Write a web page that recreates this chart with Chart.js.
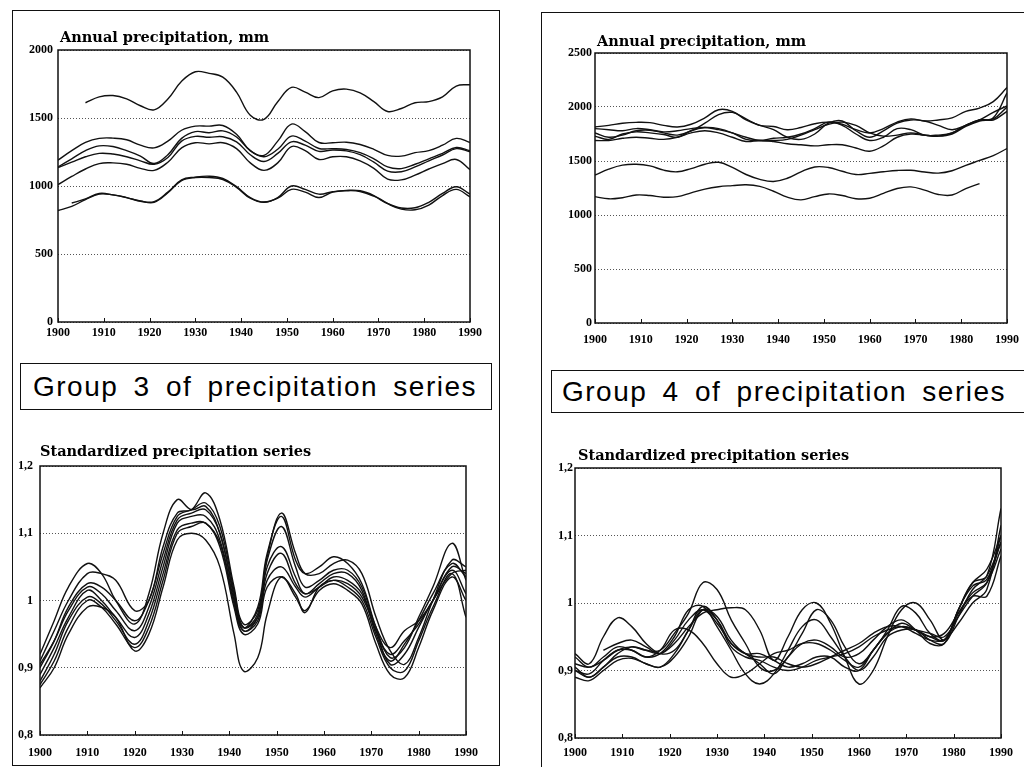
<!DOCTYPE html>
<html>
<head>
<meta charset="utf-8">
<script src="https://cdn.jsdelivr.net/npm/chart.js@4.4.0/dist/chart.umd.min.js"></script>
<style>
body{margin:0;background:#fff;}
#page{position:relative;width:1024px;height:767px;overflow:hidden;background:#fff;}
.panel{position:absolute;border:1.5px solid #111;}
.group{position:absolute;border:1.5px solid #111;box-sizing:border-box;display:flex;align-items:center;
  font-family:"Liberation Sans",Arial,sans-serif;font-size:28px;letter-spacing:1.5px;word-spacing:6px;color:#000;white-space:nowrap;}
canvas{position:absolute;}
</style>
</head>
<body>
<div id="page">
<div class="panel" style="left:12px;top:10px;width:486px;height:754px"></div>
<div class="panel" style="left:541px;top:12px;width:520px;height:780px"></div>
<div class="group" style="left:20px;top:363px;width:472px;height:47px;padding-left:12px">Group 3 of precipitation series</div>
<div class="group" style="left:551px;top:370px;width:475px;height:43px;padding-left:10px">Group 4 of precipitation series</div>
<canvas id="c1" width="490" height="330" style="left:0px;top:22px"></canvas>
<canvas id="c2" width="489" height="330" style="left:535px;top:22px"></canvas>
<canvas id="c3" width="490" height="327" style="left:0px;top:440px"></canvas>
<canvas id="c4" width="489" height="327" style="left:535px;top:440px"></canvas>
</div>
<script>
// sample years (smoothed curves read every ~3 years)
var years = [1900,1903,1906,1909,1912,1915,1918,1921,1924,1927,1930,1933,1936,1939,1942,1945,1948,1951,1954,1957,1960,1963,1966,1969,1972,1975,1978,1981,1984,1987,1990];
var yearsStd3 = [1900,1903,1906,1910,1913,1916,1920,1923,1926,1929,1932,1935,1938,1941,1943,1946,1948,1951,1954,1956,1959,1962,1965,1968,1971,1974,1977,1980,1983,1987,1990];

var xTicks = [1900,1910,1920,1930,1940,1950,1960,1970,1980,1990];
var yTicksG3 = [0,500,1000,1500,2000];
var yTicksG4 = [0,500,1000,1500,2000,2500];
var yTicksStd = [0.8,0.9,1,1.1,1.2];
var yLabelsStd = ['0,8','0,9','1','1,1','1,2'];

// group 3, annual precipitation (mm)
var g3a1 = [null,null,1612,1655,1665,1640,1590,1560,1640,1770,1840,1828,1800,1690,1520,1490,1620,1725,1690,1650,1700,1712,1685,1620,1548,1570,1612,1620,1655,1735,1745];
var g3a2 = [1190,1260,1320,1350,1352,1340,1300,1280,1330,1410,1440,1440,1445,1380,1260,1225,1330,1455,1400,1320,1318,1322,1305,1270,1225,1220,1245,1260,1300,1350,1320];
var g3a3 = [1140,1200,1260,1295,1290,1260,1220,1165,1230,1350,1400,1392,1405,1360,1260,1215,1270,1367,1330,1276,1275,1268,1245,1200,1140,1128,1160,1200,1240,1283,1260];
var g3a4 = [1135,1175,1215,1240,1235,1215,1185,1160,1210,1330,1365,1358,1362,1325,1230,1180,1240,1325,1300,1255,1265,1258,1230,1175,1110,1105,1140,1185,1228,1275,1252];
var g3a5 = [1010,1070,1125,1165,1170,1160,1130,1115,1175,1280,1318,1310,1318,1275,1170,1115,1170,1290,1260,1195,1215,1215,1185,1130,1050,1045,1080,1125,1165,1195,1120];
var g3a6 = [820,850,900,940,935,915,890,880,950,1040,1062,1062,1048,990,910,880,910,975,955,915,955,965,960,925,870,830,825,860,930,975,920];
var g3a7 = [null,875,905,945,935,915,888,885,955,1045,1065,1072,1055,995,915,882,915,1000,975,940,958,968,965,930,872,838,840,880,945,995,940];

// group 4, annual precipitation (mm)
var g4a1 = [1170,1150,1160,1185,1180,1165,1170,1205,1240,1262,1272,1280,1265,1220,1165,1140,1170,1195,1180,1150,1155,1200,1245,1260,1230,1190,1185,1245,1290,null,null];
var g4a2 = [1370,1425,1462,1470,1455,1415,1400,1430,1470,1488,1440,1375,1330,1310,1340,1400,1445,1440,1405,1375,1385,1400,1412,1414,1398,1388,1410,1460,1505,1550,1615];
var g4a3 = [1815,1830,1850,1858,1855,1830,1815,1840,1900,1975,1960,1880,1830,1790,1720,1700,1750,1850,1870,1780,1720,1780,1850,1880,1870,1830,1790,1830,1880,1950,2010];
var g4a4 = [1760,1720,1740,1780,1785,1760,1740,1780,1850,1930,1950,1890,1830,1820,1790,1810,1845,1860,1840,1790,1760,1800,1860,1890,1870,1880,1900,1960,1990,2050,2180];
var g4a5 = [1730,1700,1750,1770,1760,1745,1720,1780,1810,1800,1760,1700,1690,1710,1720,1750,1800,1860,1830,1750,1690,1720,1800,1790,1740,1740,1760,1830,1880,1890,2000];
var g4a6 = [1690,1690,1710,1720,1710,1700,1720,1760,1780,1760,1720,1680,1690,1680,1660,1650,1640,1650,1650,1620,1590,1640,1720,1750,1740,1730,1760,1830,1880,1880,1960];
var g4a7 = [1800,1790,1780,1800,1790,1770,1780,1800,1810,1790,1760,1720,1690,1690,1700,1740,1790,1840,1860,1830,1760,1730,1740,1760,1740,1730,1750,1820,1870,1900,2130];

// group 3, standardized series
var g3s1 = [0.92,0.97,1.02,1.055,1.04,1.00,0.965,1.01,1.10,1.15,1.135,1.14,1.10,1.01,0.96,0.99,1.07,1.125,1.06,1.04,1.05,1.065,1.055,1.025,0.96,0.915,0.93,0.975,1.02,1.085,1.03];
var g3s2 = [0.91,0.955,1.00,1.04,1.04,1.03,0.985,1.00,1.08,1.13,1.135,1.16,1.12,1.02,0.965,0.985,1.065,1.13,1.07,1.04,1.04,1.055,1.06,1.04,0.975,0.925,0.905,0.945,1.00,1.06,1.05];
var g3s3 = [0.90,0.94,0.99,1.025,1.02,1.00,0.97,1.00,1.07,1.125,1.135,1.145,1.11,1.015,0.96,0.98,1.06,1.11,1.05,1.02,1.03,1.045,1.045,1.02,0.96,0.93,0.955,0.97,1.00,1.05,1.04];
var g3s4 = [0.905,0.94,0.985,1.02,1.01,0.985,0.955,0.99,1.06,1.12,1.13,1.135,1.10,1.005,0.955,0.975,1.05,1.08,1.035,1.01,1.025,1.04,1.04,1.015,0.95,0.91,0.935,0.97,1.01,1.055,1.035];
var g3s5 = [0.89,0.93,0.975,1.015,1.00,0.975,0.945,0.98,1.05,1.115,1.125,1.125,1.09,1.00,0.96,0.975,1.04,1.07,1.025,1.01,1.02,1.035,1.03,1.01,0.955,0.92,0.94,0.965,1.00,1.04,1.045];
var g3s6 = [0.88,0.92,0.97,1.005,0.995,0.97,0.935,0.97,1.04,1.105,1.115,1.115,1.085,0.995,0.955,0.97,1.03,1.05,1.02,1.005,1.02,1.03,1.025,1.005,0.955,0.905,0.92,0.96,1.00,1.045,1.01];
var g3s7 = [0.875,0.91,0.96,1.00,0.99,0.965,0.93,0.96,1.03,1.10,1.11,1.115,1.08,0.99,0.95,0.965,1.02,1.035,1.01,0.982,1.02,1.03,1.02,1.00,0.945,0.90,0.895,0.94,0.99,1.04,0.975];
var g3s8 = [0.87,0.90,0.95,0.99,0.99,0.975,0.925,0.95,1.02,1.09,1.10,1.09,1.05,0.95,0.895,0.915,0.98,1.035,1.005,0.985,1.015,1.025,1.015,0.995,0.935,0.89,0.885,0.93,0.985,1.035,1.00];

// group 4, standardized series
var g4s1 = [0.925,0.91,0.95,0.978,0.965,0.94,0.925,0.93,0.96,0.99,0.975,0.94,0.925,0.925,0.915,0.905,0.91,0.92,0.92,0.905,0.90,0.93,0.955,0.97,0.96,0.95,0.955,0.985,1.01,1.01,1.07];
var g4s2 = [0.91,0.905,0.915,0.93,0.935,0.93,0.93,0.955,0.985,1.03,1.02,0.975,0.94,0.905,0.90,0.92,0.955,0.99,0.975,0.935,0.91,0.93,0.96,0.995,0.985,0.955,0.945,0.99,1.03,1.05,1.10];
var g4s3 = [0.90,0.89,0.905,0.925,0.935,0.93,0.925,0.94,0.965,0.985,0.99,0.993,0.99,0.96,0.915,0.95,0.99,1.0,0.97,0.92,0.88,0.90,0.95,0.99,1.0,0.975,0.945,0.99,1.03,1.04,1.14];
var g4s4 = [0.92,0.905,0.92,0.935,0.93,0.92,0.93,0.96,0.96,0.94,0.91,0.89,0.895,0.91,0.925,0.93,0.94,0.94,0.93,0.915,0.905,0.93,0.955,0.965,0.96,0.95,0.945,0.985,1.015,1.03,1.08];
var g4s5 = [0.90,0.895,0.915,0.93,0.93,0.92,0.925,0.95,0.99,0.995,0.965,0.93,0.895,0.88,0.895,0.93,0.965,0.975,0.95,0.92,0.90,0.92,0.95,0.96,0.96,0.945,0.94,0.98,1.02,1.04,1.09];
var g4s6 = [0.905,0.89,0.905,0.92,0.92,0.91,0.905,0.925,0.96,0.995,0.975,0.935,0.92,0.915,0.905,0.90,0.905,0.915,0.92,0.925,0.935,0.95,0.96,0.965,0.96,0.955,0.95,0.98,1.01,1.03,1.10];
var g4s7 = [0.89,0.885,0.90,0.915,0.918,0.91,0.905,0.92,0.95,0.99,0.98,0.945,0.925,0.92,0.92,0.91,0.905,0.91,0.92,0.93,0.94,0.955,0.965,0.965,0.955,0.945,0.945,0.97,1.0,1.02,1.115];
var g4s8 = [null,null,0.93,0.94,0.945,0.935,0.925,0.945,0.975,0.99,0.97,0.94,0.925,0.91,0.895,0.92,0.94,0.945,0.935,0.92,0.925,0.945,0.965,0.975,0.96,0.94,0.94,0.99,1.025,1.035,1.09];

var tickFont = {family: '"Liberation Serif", serif', weight: 'bold', size: 12};

// plot frame, small x ticks and the axis caption above the plot
var framePlugin = {
	id: 'frame',
	afterDraw: function(chart, args, opts){
		var ctx = chart.ctx;
		var a = chart.chartArea;
		var xs = chart.scales.x;
		ctx.save();
		ctx.strokeStyle = '#111';
		ctx.lineWidth = 1.5;
		ctx.strokeRect(a.left, a.top, a.right - a.left, a.bottom - a.top);
		ctx.lineWidth = 1;
		xTicks.forEach(function(t){
			var px = Math.round(xs.getPixelForValue(t)) + 0.5;
			ctx.beginPath();
			ctx.moveTo(px, a.bottom);
			ctx.lineTo(px, a.bottom - 4);
			ctx.stroke();
		});
		ctx.fillStyle = '#000';
		ctx.font = 'bold 14.5px "DejaVu Serif", serif';
		ctx.textBaseline = 'alphabetic';
		ctx.fillText(opts.title, a.left + opts.dx, a.top - opts.dy);
		ctx.restore();
	}
};

function makeChart(canvasId, xs, seriesList, yTicks, yLabels, box){
	var datasets = seriesList.map(function(s){
		return {
			data: xs.map(function(yr, i){ return {x: yr, y: s[i]}; }),
			borderColor: '#111',
			borderWidth: 1.4,
			pointRadius: 0,
			tension: 0.4,
			fill: false
		};
	});
	return new Chart(document.getElementById(canvasId), {
		type: 'line',
		data: {datasets: datasets},
		options: {
			responsive: false,
			animation: false,
			layout: {padding: {top: box.top, right: box.right, left: 0, bottom: 0}},
			plugins: {
				legend: {display: false},
				tooltip: {enabled: false},
				frame: {title: box.title, dx: box.dx, dy: box.dy}
			},
			scales: {
				x: {
					type: 'linear',
					min: 1900,
					max: 1990,
					afterBuildTicks: function(s){ s.ticks = xTicks.map(function(v){ return {value: v}; }); },
					afterFit: function(s){ s.height = box.xh; },
					grid: {display: false},
					border: {display: false},
					ticks: {
						padding: box.xpad,
						color: '#000',
						font: tickFont,
						maxRotation: 0,
						autoSkip: false,
						callback: function(v){ return String(v); }
					}
				},
				y: {
					type: 'linear',
					min: yTicks[0],
					max: yTicks[yTicks.length - 1],
					afterBuildTicks: function(s){ s.ticks = yTicks.map(function(v){ return {value: v}; }); },
					afterFit: function(s){ s.width = box.yw; },
					grid: {color: '#555', lineWidth: 1, drawTicks: false},
					border: {display: false, dash: [1, 2]},
					ticks: {
						padding: box.ypad,
						color: '#000',
						font: tickFont,
						callback: function(v, i){ return yLabels[i]; }
					}
				}
			}
		},
		plugins: [framePlugin]
	});
}

// canvas c1/c2 top 22, c3/c4 top 440; paddings put the plot areas where the reference has them
makeChart('c1', years, [g3a1, g3a2, g3a3, g3a4, g3a5, g3a6, g3a7], yTicksG3, yTicksG3.map(String),
	{title: 'Annual precipitation, mm', dx: 2, dy: 8, top: 28, right: 20, yw: 58, xh: 30, xpad: -4, ypad: 5});
makeChart('c2', years, [g4a1, g4a2, g4a3, g4a4, g4a5, g4a6, g4a7], yTicksG4, yTicksG4.map(String),
	{title: 'Annual precipitation, mm', dx: 2, dy: 7, top: 31, right: 17, yw: 60, xh: 29, xpad: 2, ypad: 3});
makeChart('c3', yearsStd3, [g3s1, g3s2, g3s3, g3s4, g3s5, g3s6, g3s7, g3s8], yTicksStd, yLabelsStd,
	{title: 'Standardized precipitation series', dx: 0, dy: 10, top: 26, right: 24, yw: 40, xh: 32, xpad: 3, ypad: 7});
makeChart('c4', years, [g4s1, g4s2, g4s3, g4s4, g4s5, g4s6, g4s7, g4s8], yTicksStd, yLabelsStd,
	{title: 'Standardized precipitation series', dx: 3, dy: 8, top: 28, right: 23, yw: 40, xh: 29, xpad: 0, ypad: 2});
</script>
</body>
</html>
